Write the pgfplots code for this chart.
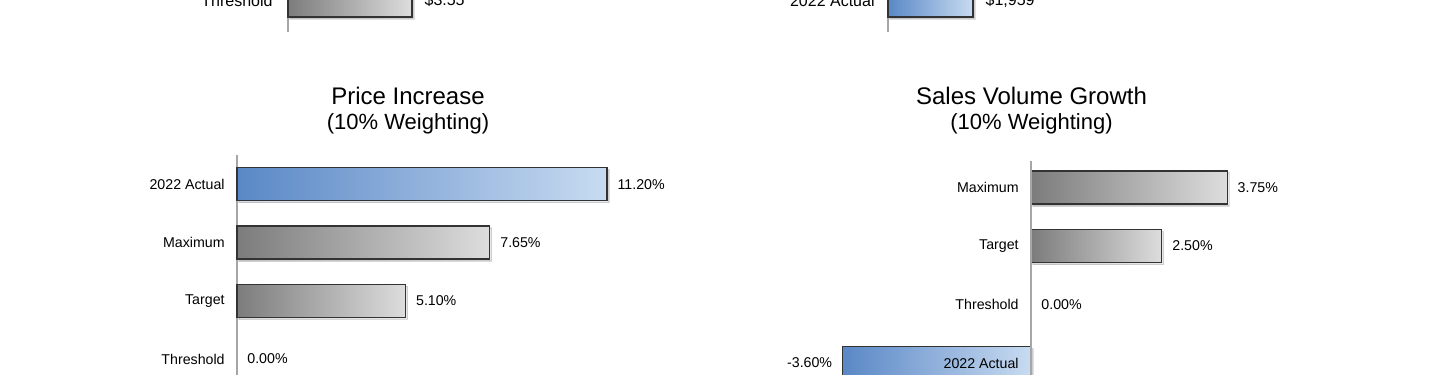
\documentclass[border=0pt]{standalone}
\usepackage{pgfplots}
\pgfplotsset{compat=1.18}
\usepackage{fontspec}
\setmainfont{Liberation Sans}
\usetikzlibrary{shadows}
\definecolor{bluedark}{HTML}{5A88C6}
\definecolor{bluelight}{HTML}{C8DBF1}
\definecolor{graydark}{HTML}{7C7C7C}
\definecolor{graylight}{HTML}{DDDDDD}
\definecolor{edge}{HTML}{333333}
\definecolor{axisgray}{HTML}{A6A6A6}
\pgfplotsset{
  panel/.style={
    anchor=origin,
    axis x line=none,
    axis y line*=middle,
    y axis line style={draw=axisgray, line width=0.6pt},
    ytick={0,1,2,3},
    major tick length=0pt,
    yticklabel style={anchor=east, inner sep=0pt, xshift=-6pt, font=\fontsize{7.1}{8}\selectfont},
    xbar, bar width=16.5pt, bar shift=0pt,
    clip=false,
    nodes near coords, point meta=explicit symbolic,
    every node near coord/.style={font=\fontsize{7.1}{8}\selectfont, inner sep=0pt, anchor=west, xshift=5pt},
  },
  bluebar/.style={draw=edge, line width=0.6pt, left color=bluedark, right color=bluelight,
    drop shadow={shadow xshift=1pt, shadow yshift=-1pt, opacity=0.15}},
  graybar/.style={draw=edge, line width=0.6pt, left color=graydark, right color=graylight,
    drop shadow={shadow xshift=1pt, shadow yshift=-1pt, opacity=0.15}},
}
\begin{document}
\begin{tikzpicture}
\path[use as bounding box] (0,0) rectangle (720pt,187.5pt);
\fill[white] (0,0) rectangle (720pt,187.5pt);
\clip (0,0) rectangle (720pt,187.5pt);

% ---- top-left (cut off) ----
\begin{axis}[panel, at={(144pt,187.25pt)}, x=17.465pt, y=29.1pt,
  xmin=0, xmax=5, ymin=-0.54, ymax=1.5,
  ytick={0}, yticklabels={Threshold},
  yticklabel style={font=\fontsize{8}{9.5}\selectfont, xshift=-1.5pt},
  every node near coord/.append style={font=\fontsize{8}{9.5}\selectfont, xshift=1pt}]
\addplot[graybar] coordinates {(3.55,0) [\$3.55]};
\end{axis}

% ---- top-right (cut off) ----
\begin{axis}[panel, at={(444pt,187.25pt)}, x=0.021695pt, y=29.1pt,
  xmin=0, xmax=3000, ymin=-0.54, ymax=1.5,
  ytick={0}, yticklabels={2022 Actual},
  yticklabel style={font=\fontsize{8}{9.5}\selectfont, xshift=-0.5pt},
  every node near coord/.append style={font=\fontsize{8}{9.5}\selectfont, xshift=1pt}]
\addplot[bluebar] coordinates {(1959,0) [\$1,959]};
\end{axis}

% ---- Price Increase ----
\node[font=\fontsize{12}{14}\selectfont, anchor=base] at (204pt,135.25pt) {Price Increase};
\node[font=\fontsize{11}{13}\selectfont, anchor=base] at (204pt,122.5pt) {(10\% Weighting)};
\begin{axis}[panel, at={(118.5pt,8pt)}, x=16.52pt, y=29.1pt,
  xmin=0, xmax=13, ymin=-0.6, ymax=3.5,
  yticklabels={Threshold,Target,Maximum,2022 Actual}]
\addplot[bluebar] coordinates {(11.20,3) [11.20\%]};
\addplot[graybar] coordinates {(7.65,2) [7.65\%]};
\addplot[graybar] coordinates {(5.10,1) [5.10\%]};
\addplot[draw=none, fill=none] coordinates {(0,0) [0.00\%]};
\end{axis}

% ---- Sales Volume Growth ----
\node[font=\fontsize{12}{14}\selectfont, anchor=base] at (515.75pt,135.25pt) {Sales Volume Growth};
\node[font=\fontsize{11}{13}\selectfont, anchor=base] at (515.75pt,122.5pt) {(10\% Weighting)};
\begin{axis}[panel, axis on top, at={(515.5pt,6pt)}, x=26.15pt, y=29.25pt,
  xmin=-4.5, xmax=4.5, ymin=-0.6, ymax=3.45,
  yticklabels={2022 Actual,Threshold,Target,Maximum}]
\addplot[graybar] coordinates {(3.75,3) [3.75\%]};
\addplot[graybar] coordinates {(2.50,2) [2.50\%]};
\addplot[draw=none, fill=none] coordinates {(0,1) [0.00\%]};
\addplot[bluebar, every node near coord/.append style={anchor=east, xshift=-10pt}] coordinates {(-3.60,0) [-3.60\%]};
\end{axis}
\end{tikzpicture}
\end{document}
